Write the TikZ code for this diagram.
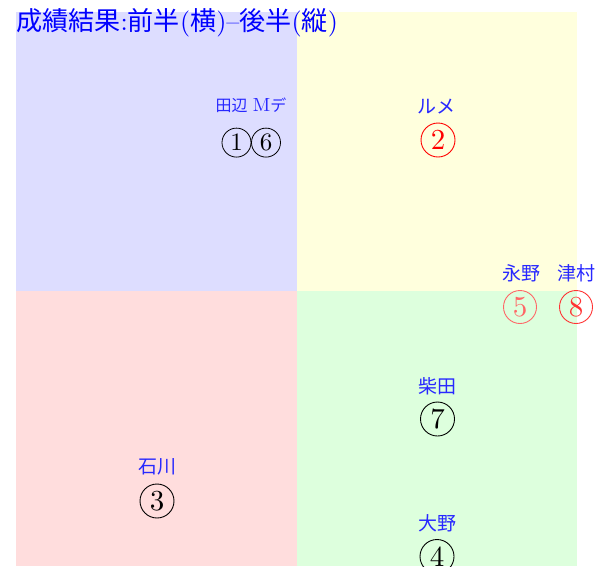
\documentclass[tikz,border=0pt]{standalone}
\usepackage{fontspec}
\newfontfamily\jp{Noto Sans CJK JP}
\newfontfamily\lmten{lmroman10-regular.otf}
\definecolor{qblue}{HTML}{DDDDFF}
\definecolor{qyellow}{HTML}{FFFFDD}
\definecolor{qred}{HTML}{FFDDDD}
\definecolor{qgreen}{HTML}{DDFFDD}
\definecolor{lblblue}{HTML}{2828FF}
\tikzset{
  lbl/.style={text=lblblue, inner sep=0pt, font=\fontsize{19}{19}\selectfont},
  cnum/.style={circle, draw, line width=0.9pt, inner sep=0pt, minimum size=34pt, font=\lmten\fontsize{29}{29}\selectfont},
  cnumsmall/.style={circle, draw, line width=0.8pt, inner sep=0pt, minimum size=29pt, font=\lmten\fontsize{25}{25}\selectfont},
}
\begin{document}
\begin{tikzpicture}[x=1pt,y=-1pt]
\useasboundingbox (0,0) rectangle (603,566);
% quadrants
\fill[qblue]   (16,12) rectangle (297,291);
\fill[qyellow] (297,12) rectangle (577,291);
\fill[qred]    (16,291) rectangle (297,566);
\fill[qgreen]  (297,291) rectangle (577,566);
% title
\node[anchor=base west, inner sep=0pt, text=blue, font=\lmten\fontsize{26.1}{26.1}\selectfont] (title) at (16,30)
  {{\jp 成績結果}:{\jp 前半}({\jp 横})–{\jp 後半}({\jp 縦})};
% labels
\node[lbl, font=\lmten\fontsize{16}{16}\selectfont] (tanabe) at (251,105) {{\jp 田辺}\ \fontsize{19}{19}\selectfont M{\jp\fontsize{16}{16}\selectfont デ}};
\node[cnumsmall] (n1) at (236.5,142.6) {1};
\node[cnumsmall] (n6) at (266,142.6) {6};
\node[lbl] (rume) at (436,107) {\jp ルメ};
\node[cnum, draw=red, text=red] (n2) at (438,140) {2};
\node[lbl] (nagano) at (521.5,273) {\jp 永野};
\node[cnum, draw=red!60, text=red!60, minimum size=33pt] (n5) at (520,307) {5};
\node[lbl] (tsumura) at (576.5,273) {\jp 津村};
\node[cnum, draw=red!80, text=red!80, minimum size=33pt] (n8) at (576,307) {8};
\node[lbl] (shibata) at (437,386) {\jp 柴田};
\node[cnum] (n7) at (437.5,419) {7};
\node[lbl] (ishikawa) at (157,467) {\jp 石川};
\node[cnum] (n3) at (157,501) {3};
\node[lbl] (oono) at (437,523) {\jp 大野};
\node[cnum] (n4) at (437,556.5) {4};
\end{tikzpicture}
\end{document}
